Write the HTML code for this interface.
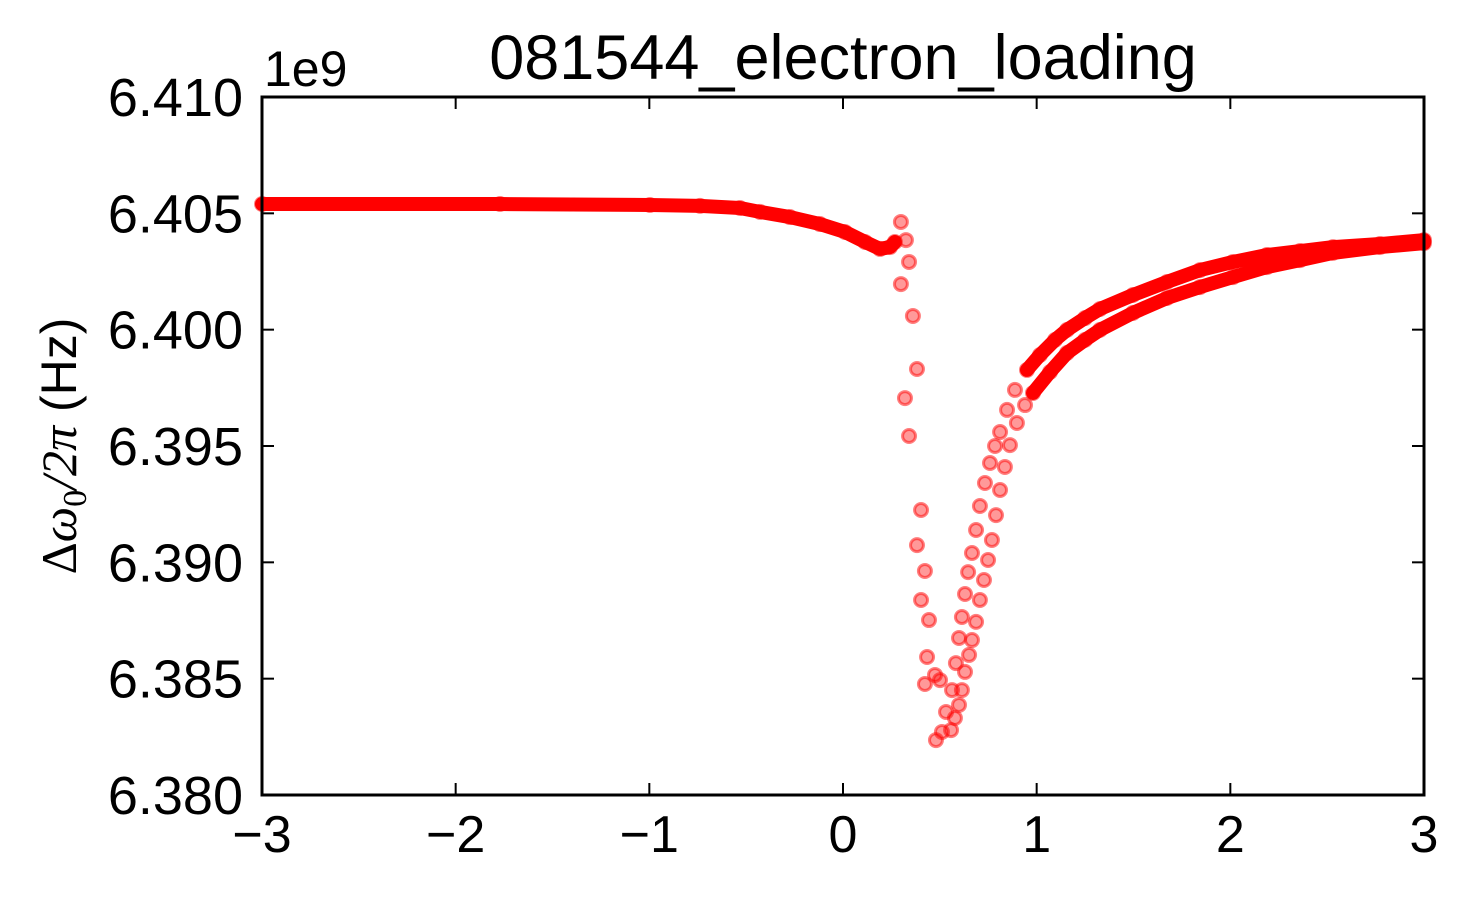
<!DOCTYPE html>
<html><head><meta charset="utf-8"><style>
html,body{margin:0;padding:0;background:#fff;}
svg text{font-family:"Liberation Sans",sans-serif;fill:#000;}
</style></head><body>
<svg id="chart" width="1469" height="892" viewBox="0 0 1469 892" xmlns="http://www.w3.org/2000/svg">
<rect width="1469" height="892" fill="#fff"/>
<text x="843" y="79" font-size="63" text-anchor="middle">081544_electron_loading</text>
<text x="264" y="86" font-size="50">1e9</text>
<text transform="translate(76,446) rotate(-90)" font-size="50" text-anchor="middle"><tspan font-family="'Liberation Serif',serif">Δ</tspan><tspan font-family="'Liberation Serif',serif" font-style="italic">ω</tspan><tspan font-size="34" dy="10" font-family="'Liberation Serif',serif">0</tspan><tspan dy="-10" font-family="'Liberation Serif',serif" font-style="italic">/2π</tspan> (Hz)</text>
<g id="ticks"></g>
<g id="marks"></g>
<rect x="262" y="97" width="1162" height="698" fill="none" stroke="#000" stroke-width="3"/>
</svg>
<script>
const xTicks=[-3,-2,-1,0,1,2,3];
const xTickLabels=["\u22123","\u22122","\u22121","0","1","2","3"];
const yTicks=[6.380,6.385,6.390,6.395,6.400,6.405,6.410];
const yTickLabels=["6.380","6.385","6.390","6.395","6.400","6.405","6.410"];
const flatX=[-3,-1.771,-0.997,-0.738,-0.532,-0.428,-0.274,-0.119,0.010,0.114,0.191,0.243,0.268];
const flatY=[6.40540,6.40540,6.40536,6.40532,6.40523,6.40506,6.40484,6.40454,6.40420,6.40377,6.40347,6.40355,6.40377];
const dipX=[0.299,0.325,0.341,0.299,0.361,0.382,0.320,0.341,0.403,0.382,0.423,0.403,0.444,0.434,0.423,0.475,0.501,0.480,0.511];
const dipY=[6.40463,6.40385,6.40291,6.40196,6.40059,6.39831,6.39706,6.39543,6.39225,6.39074,6.38963,6.38838,6.38752,6.38593,6.38477,6.38516,6.38494,6.38236,6.38271];
const outerX=[0.532,0.563,0.583,0.599,0.614,0.630,0.646,0.666,0.687,0.707,0.733,0.759,0.785,0.811,0.847,0.888,0.950,1.017,1.095,1.157,1.250,1.327,1.497,1.673,1.843,2.014,2.189,2.360,2.530,2.773,3.000];
const outerY=[6.38357,6.38451,6.38567,6.38675,6.38765,6.38864,6.38958,6.39040,6.39139,6.39242,6.39341,6.39427,6.39500,6.39560,6.39655,6.39741,6.39827,6.39891,6.39956,6.39999,6.40050,6.40089,6.40149,6.40205,6.40256,6.40291,6.40321,6.40338,6.40355,6.40368,6.40385];
const innerX=[0.558,0.578,0.599,0.614,0.630,0.651,0.666,0.687,0.707,0.728,0.749,0.769,0.790,0.811,0.836,0.862,0.898,0.940,0.981,1.069,1.157,1.250,1.327,1.497,1.673,1.843,2.014,2.189,2.360,2.530,2.773,3.000];
const innerY=[6.38279,6.38331,6.38387,6.38451,6.38529,6.38602,6.38666,6.38744,6.38838,6.38924,6.39010,6.39096,6.39203,6.39311,6.39410,6.39504,6.39599,6.39676,6.39728,6.39818,6.39900,6.39956,6.39999,6.40072,6.40136,6.40183,6.40226,6.40269,6.40299,6.40330,6.40355,6.40372];

const NS="http://www.w3.org/2000/svg";
const X0=262,X1=1424,Y0=795,Y1=97;
function sx(v){return X0+(v+3)/6*(X1-X0);}
function sy(v){return Y0-(v-6.380)/0.030*(Y0-Y1);}
function mk(tag,attrs,parent){const e=document.createElementNS(NS,tag);for(const k in attrs)e.setAttribute(k,attrs[k]);parent.appendChild(e);return e;}
const tg=document.getElementById('ticks');
xTicks.forEach((t,i)=>{
  const x=sx(t);
  const l1=mk('line',{x1:x,x2:x,y1:Y0,y2:Y0-12,stroke:'#000','stroke-width':2},tg);
  
  
  const l2=mk('line',{x1:x,x2:x,y1:Y1,y2:Y1+12,stroke:'#000','stroke-width':2},tg);
  
  
  const tx=mk('text',{x:x,y:852,'font-size':52,'text-anchor':'middle'},tg);
  tx.textContent=xTickLabels[i];
  
  
});
yTicks.forEach((t,i)=>{
  const y=sy(t);
  const l1=mk('line',{x1:X0,x2:X0+12,y1:y,y2:y,stroke:'#000','stroke-width':2},tg);
  
  
  const l2=mk('line',{x1:X1,x2:X1-12,y1:y,y2:y,stroke:'#000','stroke-width':2},tg);
  
  
  const tx=mk('text',{x:243,y:y+19,'font-size':54,'text-anchor':'end'},tg);
  tx.textContent=yTickLabels[i];
  
  
});
const mg=document.getElementById('marks');
function series(xs,ys,name,bandFrom){
  let pts=[];
  xs.forEach((v,i)=>{if(v>=bandFrom)pts.push(sx(v)+','+sy(ys[i]));});
  if(pts.length>1){
    const pl=mk('polyline',{points:pts.join(' '),fill:'none',stroke:'#ff0000','stroke-width':14,'stroke-linecap':'round','stroke-linejoin':'round'},mg);
    
    
  }
  xs.forEach((v,i)=>{
    const c=mk('circle',{cx:sx(v),cy:sy(ys[i]),r:6.5,fill:'rgba(255,0,0,0.4)',stroke:'rgba(255,0,0,0.5)','stroke-width':3},mg);
    
    
  });
}
series(flatX,flatY,'flat-series',-10);
series(dipX,dipY,'dip-series',10);
series(outerX,outerY,'outer-branch',0.94);
series(innerX,innerY,'inner-branch',0.97);
</script>
</body></html>
